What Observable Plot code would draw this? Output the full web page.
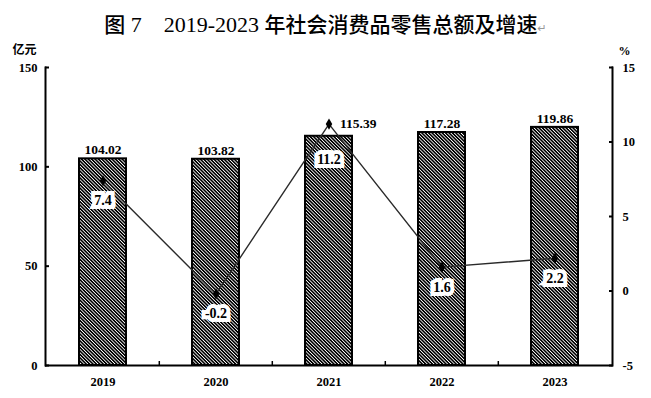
<!DOCTYPE html>
<html><head><meta charset="utf-8">
<script src="https://cdn.jsdelivr.net/npm/d3@7"></script>
<script src="https://cdn.jsdelivr.net/npm/@observablehq/plot@0.6"></script>
<style>
body{margin:0;background:#fff;width:651px;height:398px;overflow:hidden;}
#title{height:38px;width:651px;text-align:center;font-family:"Liberation Serif","Noto Sans CJK SC",serif;font-size:22px;font-weight:normal;line-height:46px;white-space:pre;color:#000;padding-left:0px;box-sizing:border-box;overflow:visible;}
#title .cjk{font-family:"Noto Sans CJK SC";font-weight:500;font-size:21px;}
#title .ret{font-size:11px;color:#999;font-weight:normal;font-family:"DejaVu Sans";}
#chart{position:relative;}
</style></head><body>
<div id="title"><span class="cjk">图</span> 7　2019-2023 <span class="cjk">年社会消费品零售总额及增速</span><span class="ret">↵</span></div>
<div id="chart"></div>
<script>
const years = ["2019", "2020", "2021", "2022", "2023"];
const sales = [104.02, 103.82, 115.39, 117.28, 119.86];
const growth = [7.4, -0.2, 11.2, 1.6, 2.2];
const leftTicks = [0, 50, 100, 150];
const rightTicks = [-5, 0, 5, 10, 15];
const leftUnit = "亿元";
const rightUnit = "%";

// map growth (-5..15) onto the left scale (0..150)
const toLeft = v => (v + 5) * 7.5;
const data = years.map((y, i) => ({year: y, sales: sales[i], growth: growth[i], g: toLeft(growth[i])}));

const W = 651, H = 360, mL = 45, mR = 39, mT = 29, mB = 33;
const halfStep = (W - mL - mR) / years.length / 2;
const font = "'Liberation Serif', 'Times New Roman', serif";

const chart = Plot.plot({
  width: W, height: H,
  marginLeft: mL, marginRight: mR, marginTop: mT, marginBottom: mB,
  style: {fontFamily: font, fontSize: "12px", fontWeight: "bold", background: "white", color: "black", overflow: "visible"},
  x: {domain: years, type: "band", paddingInner: 0.585, paddingOuter: 0.2925, align: 0.5},
  y: {domain: [0, 150]},
  marks: [
    Plot.barY(data, {x: "year", y: "sales", fill: "url(#hatch)", stroke: "black", strokeWidth: 2}),
    // axis frame lines
    Plot.ruleY([0], {stroke: "black", strokeWidth: 2}),
    Plot.frame({anchor: "left", stroke: "black", strokeWidth: 2}),
    Plot.frame({anchor: "right", stroke: "black", strokeWidth: 2}),
    Plot.axisY({anchor: "left", ticks: leftTicks, tickSize: -4, tickPadding: 12, tickFormat: d => d, label: null, strokeWidth: 2, fontSize: 12.5}),
    Plot.axisY({anchor: "right", ticks: rightTicks.map(toLeft), tickSize: -4, tickPadding: 14, tickFormat: d => Math.round(d / 7.5 - 5), label: null, strokeWidth: 2, fontSize: 12.5}),
    Plot.axisX({ticks: years, tickSize: 0, tickPadding: 12, label: null, fontSize: 12.5}),
    Plot.ruleX(years.slice(1), {x: d => d, dx: -halfStep, y1: 0, y2: 2, stroke: "black", strokeWidth: 1.5}),
    // bar value labels
    Plot.text(data.filter(d => d.year !== "2021"), {x: "year", y: "sales", text: d => d.sales.toFixed(2), dy: -9, fontSize: 13.5, fontWeight: "bold"}),
    Plot.text(data.filter(d => d.year === "2021"), {x: "year", y: "g", text: d => d.sales.toFixed(2), dx: 11, textAnchor: "start", fontSize: 13.5, fontWeight: "bold"}),
    // growth line
    Plot.line(data, {x: "year", y: "g", stroke: "#2a2a2a", strokeWidth: 1.4}),
    Plot.dot(data, {x: "year", y: "g", symbol: "diamond", r: 3.4, fill: "black", stroke: "none"}),
    Plot.text(data.filter(d => d.year !== "2021"), {x: "year", y: "g", text: d => String(d.growth), dy: 20, fontSize: 14, fontWeight: "bold", stroke: "white", strokeWidth: 8, strokeLinejoin: "miter", fill: "black"}),
    Plot.text(data.filter(d => d.year === "2021"), {x: "year", y: "g", text: d => String(d.growth), dy: 35, fontSize: 14, fontWeight: "bold", stroke: "white", strokeWidth: 8, strokeLinejoin: "miter", fill: "black"}),
    // units
    Plot.text([leftUnit], {frameAnchor: "top-left", text: d => d, dx: -33, dy: -22, fontFamily: "'Noto Sans CJK SC'", fontSize: 12, fontWeight: "bold", textAnchor: "start"}),
    Plot.text([rightUnit], {frameAnchor: "top-right", text: d => d, dx: 18, dy: -21, fontSize: 12, fontWeight: "bold"})
  ]
});

// hatch pattern
const svg = d3.select(chart.tagName.toLowerCase() === "svg" ? chart : chart.querySelector("svg"));
const defs = svg.insert("defs", ":first-child");
const s = 2.4;
const p = defs.append("pattern").attr("id", "hatch").attr("patternUnits", "userSpaceOnUse")
  .attr("width", s).attr("height", s).attr("patternTransform", "rotate(-45)");
p.append("rect").attr("width", s).attr("height", s).attr("fill", "white");
p.append("rect").attr("x", 0).attr("y", 0).attr("width", 1.3).attr("height", s).attr("fill", "black").attr("shape-rendering", "crispEdges");
document.getElementById("chart").appendChild(chart);
</script>
</body></html>
